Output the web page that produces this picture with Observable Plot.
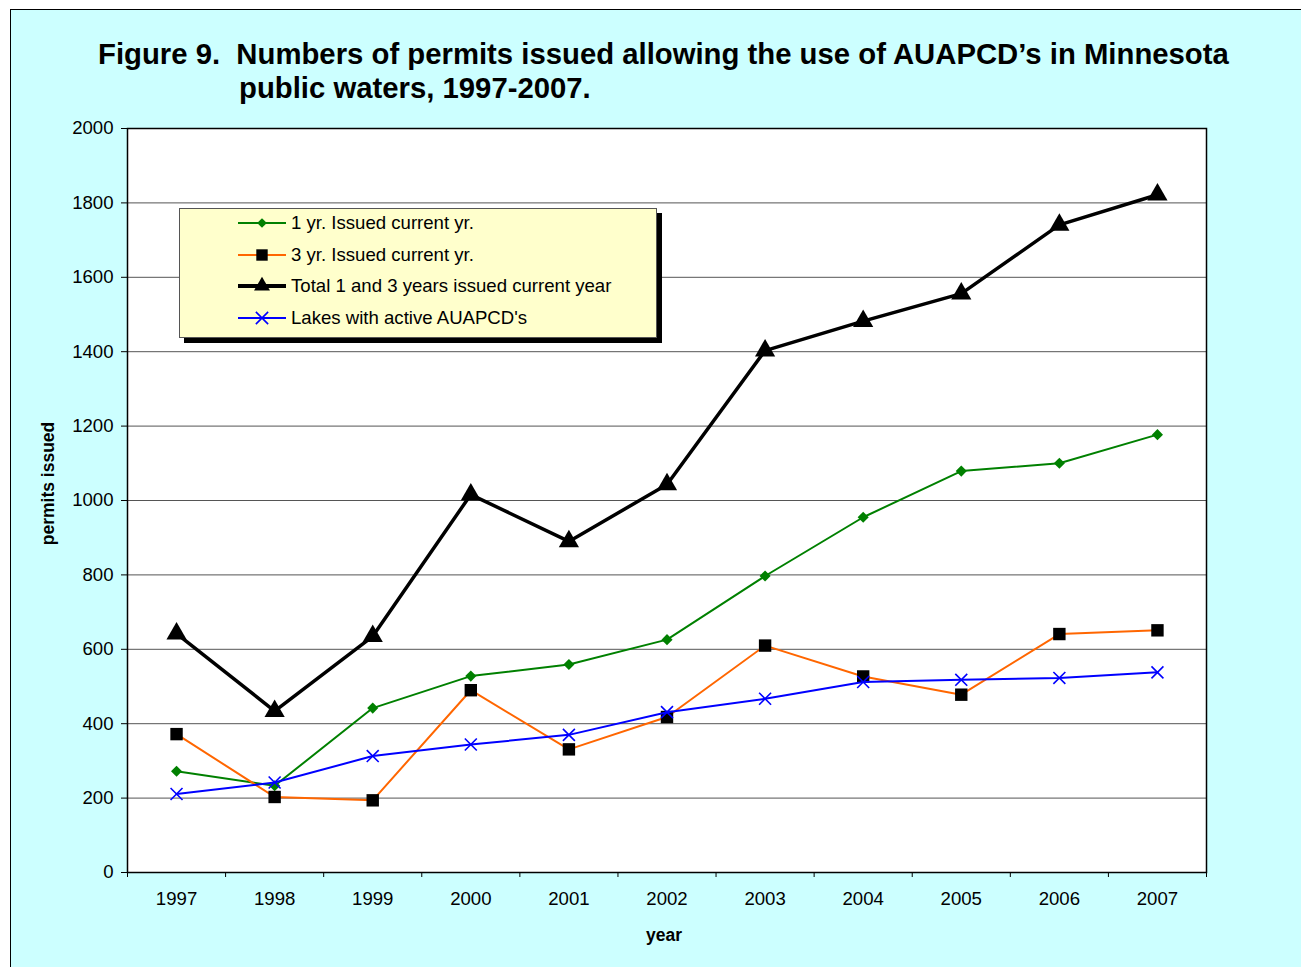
<!DOCTYPE html>
<html>
<head>
<meta charset="utf-8">
<script src="https://cdn.jsdelivr.net/npm/d3@7"></script>
<script src="https://cdn.jsdelivr.net/npm/@observablehq/plot@0.6"></script>
<style>
  html, body { margin: 0; padding: 0; background: #fff; }
  #page { position: relative; width: 1301px; height: 967px; overflow: hidden; font-family: Arial, "Liberation Sans", sans-serif; }
  #panel { position: absolute; left: 10px; top: 9px; width: 1310px; height: 980px; background: #CCFFFF; border: 1.5px solid #000; box-sizing: border-box; }
  #chart { position: absolute; left: 0; top: 0; }
  #title { position: absolute; left: 98px; top: 37px; font-weight: bold; font-size: 29.3px; line-height: 34px; color: #000; white-space: nowrap; }
  #title .l2 { padding-left: 141px; }
  #legend { position: absolute; left: 179px; top: 208px; width: 478px; height: 130px; box-sizing: border-box; background: #FFFFCC; border: 1px solid #555; box-shadow: 5px 5px 0 #000; }
  #legend .row { position: absolute; left: 58px; height: 24px; display: flex; align-items: center; font-size: 18.6px; color: #000; white-space: nowrap; }
  #legend svg { margin-right: 5px; }
</style>
</head>
<body>
<div id="page">
  <div id="panel"></div>
  <div id="chart"></div>
  <div id="title">Figure 9.&nbsp; Numbers of permits issued allowing the use of AUAPCD’s in Minnesota<br><span class="l2">public waters, 1997-2007.</span></div>
  <div id="legend"></div>
</div>
<script>
// Permits issued per year for aquatic plant control devices
const years = [1997, 1998, 1999, 2000, 2001, 2002, 2003, 2004, 2005, 2006, 2007];
const oneYear = [272, 233, 442, 528, 559, 626, 797, 955, 1079, 1100, 1177];
const threeYear = [372, 203, 194, 490, 331, 418, 610, 527, 478, 641, 651];
const total = [642, 434, 635, 1016, 890, 1043, 1403, 1482, 1556, 1741, 1822];
const lakes = [211, 242, 313, 344, 370, 431, 467, 512, 518, 523, 538];
const yTicks = [0, 200, 400, 600, 800, 1000, 1200, 1400, 1600, 1800, 2000];

const seriesNames = [
  "1 yr. Issued current yr.",
  "3 yr. Issued current yr.",
  "Total 1 and 3 years issued current year",
  "Lakes with active AUAPCD's"
];

const toRows = (vals) => years.map((year, i) => ({year, value: vals[i]}));
const rowsOne = toRows(oneYear);
const rowsThree = toRows(threeYear);
const rowsTotal = toRows(total);
const rowsLakes = toRows(lakes);

// category boundaries for the tick marks between years
const boundaries = [years[0] - 0.5, ...years.map((y) => y + 0.5)];

const chart = Plot.plot({
  width: 1301,
  height: 967,
  marginLeft: 127,
  marginRight: 95,
  marginTop: 128,
  marginBottom: 95,
  style: {fontFamily: "Arial, 'Liberation Sans', sans-serif", fontSize: "18.6px", background: "transparent", color: "#000"},
  x: {type: "linear", domain: [years[0] - 0.5, years[years.length - 1] + 0.5]},
  y: {domain: [0, 2000]},
  marks: [
    Plot.rect([0], {x1: years[0] - 0.5, x2: years[years.length - 1] + 0.5, y1: 0, y2: 2000, fill: "#fff"}),
    Plot.gridY(yTicks.filter((t) => t > 0 && t < 2000), {stroke: "#555", strokeOpacity: 1, strokeWidth: 1}),
    Plot.axisY(yTicks, {tickSize: 6, tickPadding: 8, tickFormat: (d) => String(d), label: null, stroke: "#000"}),
    Plot.axisX(boundaries, {tickSize: 5, tickFormat: () => "", label: null, stroke: "#000"}),
    Plot.axisX(years, {tickSize: 0, tickPadding: 19, tickFormat: (d) => String(d), label: null}),
    Plot.frame({stroke: "#000", strokeWidth: 1.5}),
    Plot.text(["permits issued"], {frameAnchor: "left", textAnchor: "middle", dx: -79, dy: -17, rotate: -90, fontWeight: "bold", fontSize: 17.5}),
    Plot.text(["year"], {frameAnchor: "bottom", dy: 68, dx: -3, fontWeight: "bold", fontSize: 17.5}),
    // 1-year permits
    Plot.line(rowsOne, {x: "year", y: "value", stroke: "#008000", strokeWidth: 2}),
    Plot.dot(rowsOne, {x: "year", y: "value", symbol: "diamond2", r: 5, fill: "#008000", stroke: "none"}),
    // 3-year permits
    Plot.line(rowsThree, {x: "year", y: "value", stroke: "#FF6600", strokeWidth: 2}),
    Plot.dot(rowsThree, {x: "year", y: "value", symbol: "square", r: 7, fill: "#000", stroke: "none"}),
    // lakes
    Plot.line(rowsLakes, {x: "year", y: "value", stroke: "#0000FF", strokeWidth: 2}),
    Plot.dot(rowsLakes, {x: "year", y: "value", symbol: "times", r: 5.5, stroke: "#0000FF", strokeWidth: 1.6}),
    // total
    Plot.line(rowsTotal, {x: "year", y: "value", stroke: "#000", strokeWidth: 3.5}),
    Plot.dot(rowsTotal, {x: "year", y: "value", symbol: "triangle", r: 7.5, fill: "#000", stroke: "none"})
  ]
});
document.getElementById("chart").appendChild(chart);

// legend
const legendSpecs = [
  {color: "#008000", width: 2, symbol: d3.symbolDiamond2, size: 60, fill: "#008000", stroke: "none"},
  {color: "#FF6600", width: 2, symbol: d3.symbolSquare, size: 130, fill: "#000", stroke: "none"},
  {color: "#000", width: 4, symbol: d3.symbolTriangle, size: 110, fill: "#000", stroke: "none"},
  {color: "#0000FF", width: 2, symbol: d3.symbolTimes, size: 100, fill: "none", stroke: "#0000FF"}
];
const rowTops = [2, 34, 65, 97];
const legend = d3.select("#legend");
legendSpecs.forEach((spec, i) => {
  const row = legend.append("div").attr("class", "row").style("top", rowTops[i] + "px");
  const svg = row.append("svg").attr("width", 48).attr("height", 24);
  svg.append("line").attr("x1", 0).attr("x2", 48).attr("y1", 12).attr("y2", 12)
    .attr("stroke", spec.color).attr("stroke-width", spec.width);
  svg.append("path").attr("transform", "translate(24,12)")
    .attr("d", d3.symbol(spec.symbol, spec.size)())
    .attr("fill", spec.fill).attr("stroke", spec.stroke).attr("stroke-width", 1.6);
  row.append("span").text(seriesNames[i]);
});
</script>
</body>
</html>
